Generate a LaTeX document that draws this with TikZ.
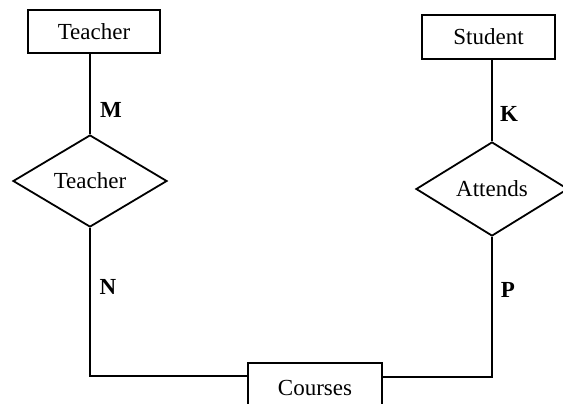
\documentclass[tikz,border=0pt]{standalone}
\usepackage{fontspec}
\setmainfont{Liberation Serif}
\usetikzlibrary{shapes.geometric,calc}

\begin{document}
\begin{tikzpicture}[
    x=0.5pt, y=-0.5pt,
    every node/.style={font=\fontsize{11.5}{14}\selectfont},
    entity/.style={draw, rectangle, line width=0.9pt, inner sep=0pt},
    relation/.style={draw, diamond, line width=0.9pt, inner sep=0pt},
    link/.style={line width=0.9pt},
    card/.style={font=\fontsize{11.5}{14}\selectfont\bfseries}
  ]
  \useasboundingbox (0,0) rectangle (563,403);
  \clip (0,0) rectangle (563,403);

  % entities
  \node[entity, minimum width=66pt, minimum height=21.5pt] (teacher) at (94,31.5) {Teacher};
  \node[entity, minimum width=66.5pt, minimum height=22pt] (student) at (488.5,37) {Student};
  \node[entity, minimum width=67pt, minimum height=25pt] (courses) at (315,388) {Courses};

  % relationships
  \node[relation, minimum width=77pt, minimum height=46pt] (teaches) at (90,181) {Teacher};
  \node[relation, minimum width=76pt, minimum height=47pt] (attends) at (492,189) {Attends};

  % attachment points on the sides of Courses
  \coordinate (cw) at ($(courses.north west)!0.27!(courses.south west)$);
  \coordinate (ce) at ($(courses.north east)!0.28!(courses.south east)$);

  % connectors
  \draw[link] (teacher.south -| teaches.north) -- (teaches.north);
  \draw[link] (student.south -| attends.north) -- (attends.north);
  \draw[link] (teaches.south) -- (teaches.south |- cw) -- (cw);
  \draw[link] (attends.south) -- (attends.south |- ce) -- (ce);

  % cardinalities
  \node[card] (m) at (111,110) {M};
  \node[card] (k) at (509,114) {K};
  \node[card] (n) at (108,287) {N};
  \node[card] (p) at (508,290) {P};
\end{tikzpicture}
\end{document}
